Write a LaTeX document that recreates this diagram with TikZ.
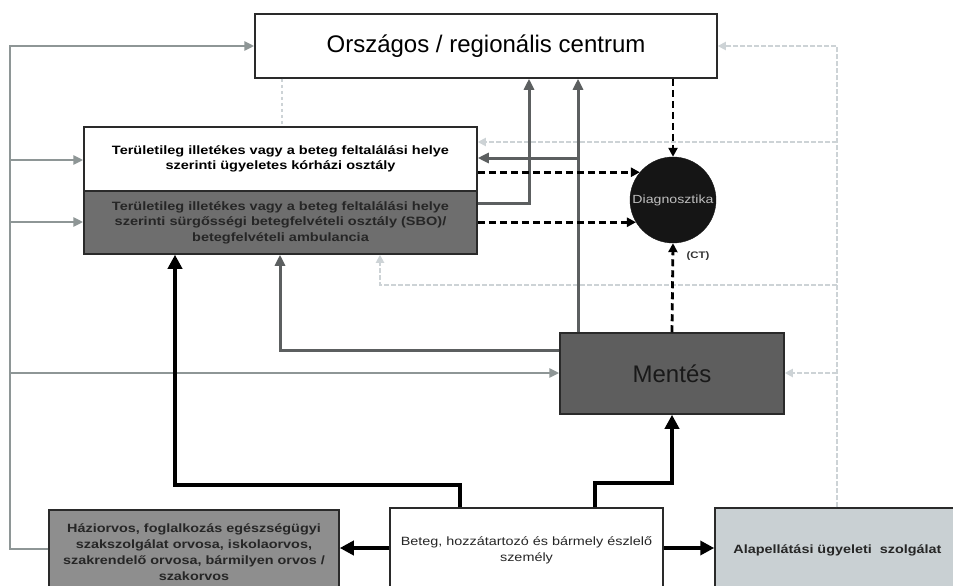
\documentclass[tikz,border=0pt]{standalone}
\usepackage{fontspec}
\setmainfont{Liberation Sans}
\newfontfamily\widefont[FakeStretch=1.2]{Liberation Sans}
\usetikzlibrary{arrows.meta,calc}
\definecolor{boxedge}{HTML}{2A2A2A}
\definecolor{hospdark}{HTML}{6E6E6E}
\definecolor{mentesfill}{HTML}{5E5E5E}
\definecolor{hazfill}{HTML}{8E8E8E}
\definecolor{alapfill}{HTML}{C9D0D3}
\definecolor{diagfill}{HTML}{151515}
\definecolor{leftgray}{HTML}{8E9696}
\definecolor{darkline}{HTML}{5C5F60}
\definecolor{faint}{HTML}{CDD3D6}
\tikzset{
  boxnode/.style={draw=boxedge, line width=1.5pt, rectangle, inner sep=2pt, align=center},
  grayline/.style={draw=leftgray, line width=2.5pt, -{Triangle[length=10pt,width=9pt]}},
  darkarrow/.style={draw=darkline, line width=3pt, -{Triangle[length=11pt,width=10pt]}},
  blackarrow/.style={draw=black, line width=4.2pt, -{Triangle[length=14pt,width=14pt]}},
  dasharrow/.style={draw=black, line width=2.8pt, dash pattern=on 7pt off 4pt, -{Triangle[length=9pt,width=9pt]}},
  faintline/.style={draw=faint, line width=1.8pt, dash pattern=on 5pt off 2pt, -{Triangle[length=8pt,width=8pt]}},
  faintplain/.style={draw=faint, line width=1.6pt, dash pattern=on 3pt off 3pt},
  hosptext/.style={font=\widefont\bfseries\fontsize{12.1}{15.5}\selectfont},
}
\begin{document}
\begin{tikzpicture}[x=1pt,y=-1pt]
\useasboundingbox (0,0) rectangle (953,586);
\fill[white] (0,0) rectangle (953,586);

% nodes
\node[boxnode, fill=white, minimum width=462pt, minimum height=64pt,
      font=\fontsize{24}{27}\selectfont] (cent) at (486,46) {Országos / regionális centrum};
\node[boxnode, fill=white, minimum width=393pt, minimum height=64pt, hosptext] (hospT) at (280.5,159)
  {Területileg illetékes vagy a beteg feltalálási helye\\szerinti ügyeletes kórházi osztály};
\node[boxnode, fill=hospdark, minimum width=393pt, minimum height=63pt, hosptext, text=black!85] (hospB) at (280.5,222.5)
  {Területileg illetékes vagy a beteg feltalálási helye\\szerinti sürgősségi betegfelvételi osztály (SBO)/\\betegfelvételi ambulancia};
\node[circle, fill=diagfill, draw=diagfill, minimum size=86pt, inner sep=0pt, text=black!25,
      font=\widefont\fontsize{11.8}{14}\selectfont] (diag) at (673,200) {Diagnosztika};
\node[boxnode, fill=mentesfill, minimum width=224pt, minimum height=81pt,
      font=\fontsize{24}{27}\selectfont, text=black!90] (mentes) at (672,373.5) {Mentés};
\node[boxnode, fill=hazfill, minimum width=290pt, minimum height=84pt,
      font=\widefont\bfseries\fontsize{12}{16}\selectfont, text=black!85] (haz) at (194,552)
  {Háziorvos, foglalkozás egészségügyi\\szakszolgálat orvosa, iskolaorvos,\\szakrendelő orvosa, bármilyen orvos /\\szakorvos};
\node[boxnode, fill=white, minimum width=273pt, minimum height=84pt,
      font=\widefont\fontsize{12}{16}\selectfont, text=black!85] (bet) at (526.5,550)
  {Beteg, hozzátartozó és bármely észlelő\\személy};
\node[boxnode, fill=alapfill, minimum width=245pt, minimum height=84pt,
      font=\widefont\bfseries\fontsize{12}{14}\selectfont, text=black!85] (alap) at (837.5,550)
  {Alapellátási ügyeleti \ szolgálat};

% coordinates
\coordinate (lb) at (10,549);
\coordinate (lt) at (10,46);
\coordinate (l160) at (10,160);
\coordinate (l222) at (10,222);
\coordinate (l372) at (10,373);
\coordinate (rt) at (837,46);
\coordinate (r142) at (837,142);
\coordinate (r285) at (837,285);
\coordinate (r373) at (837,373);
\coordinate (c285) at (380,285);
\coordinate (k1) at (280,350);
\coordinate (k2) at (578,158);
\coordinate (k3) at (529,203);
\coordinate (b1) at (460,485);
\coordinate (b2) at (175,485);
\coordinate (b3) at (595,483);
\coordinate (b4) at (672,483);

% faint lines (behind)
\draw[faintline] (alap.north -| rt) -- (rt) -- (cent.east);
\draw[faintline] (r142) -- (r142 -| hospT.east);
\draw[faintline] (r285) -- (c285) -- (c285 |- hospB.south);
\draw[faintline] (r373) -- (mentes.east |- r373);
\draw[faintplain] (cent.south -| 282,0) -- (hospT.north -| 282,0);

% left gray lines
\draw[grayline] (haz.west |- lb) -- (lb) -- (lt) -- (cent.west);
\draw[grayline] (l160) -- (l160 -| hospT.west);
\draw[grayline] (l222) -- (l222 -| hospB.west);
\draw[grayline] (l372) -- (l372 -| mentes.west);

% dark gray lines
\draw[darkarrow] (mentes.west |- k1) -- (k1) -- (k1 |- hospB.south);
\draw[darkarrow] (mentes.north -| k2) -- (k2 |- cent.south);
\draw[darkarrow] (k2) -- (k2 -| hospT.east);
\draw[darkarrow] (k3 -| hospB.east) -- (k3) -- (k3 |- cent.south);

% dashed black
\draw[dasharrow] (diag.140 -| hospT.east) -- (diag.140);
\draw[dasharrow] (diag.211 -| hospB.east) -- (diag.211);
\draw[dasharrow] (cent.south -| diag.north) -- (diag.north);
\draw[dasharrow] (mentes.north) -- (diag.south);
\node[font=\widefont\bfseries\fontsize{9.5}{11}\selectfont, text=black!80] (ct) at (698,256) {(CT)};

% black thick
\draw[blackarrow] (bet.north -| b1) -- (b1) -- (b2) -- (b2 |- hospB.south);
\draw[blackarrow] (bet.north -| b3) -- (b3) -- (b4) -- (mentes.south);
\draw[blackarrow] (bet.west |- 0,548) -- (haz.east |- 0,548);
\draw[blackarrow] (bet.east |- 0,548) -- (alap.west |- 0,548);
\end{tikzpicture}
\end{document}
